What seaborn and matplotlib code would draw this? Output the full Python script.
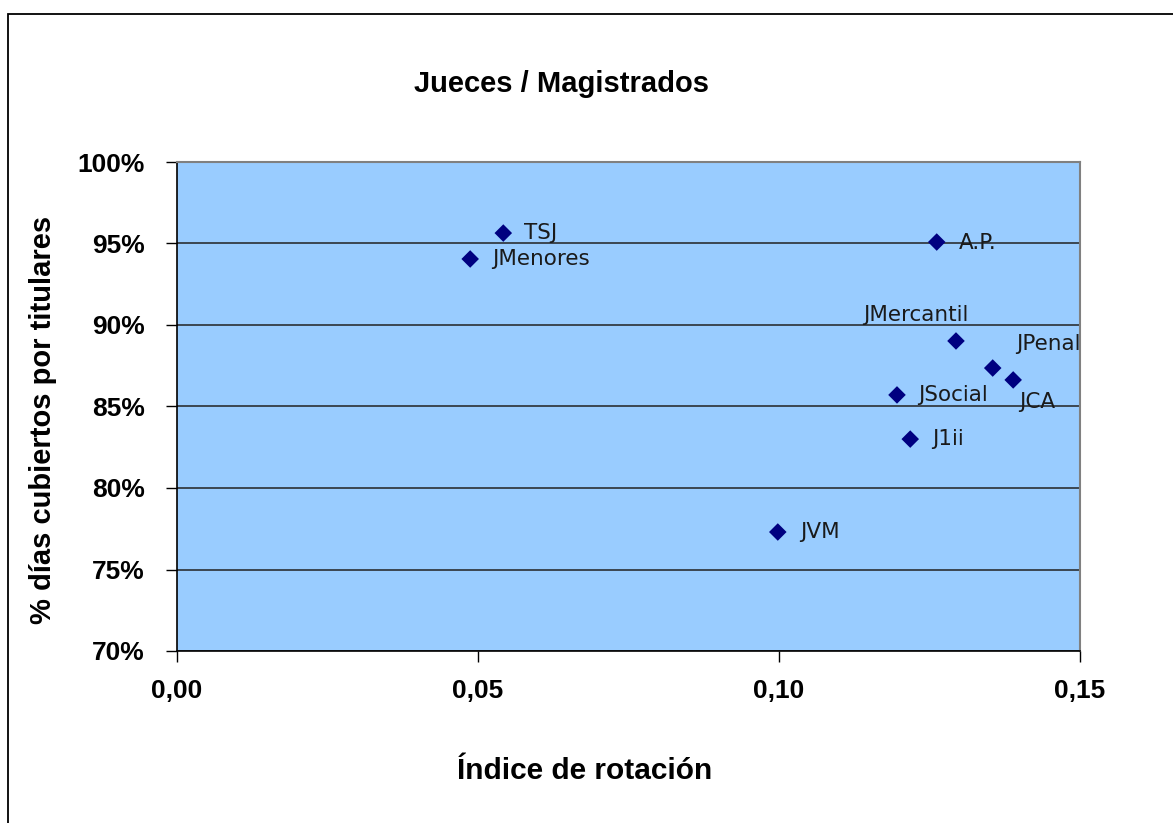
import numpy as np
import pandas as pd
import matplotlib.pyplot as plt
import seaborn as sns
from matplotlib.patches import Rectangle
from matplotlib.ticker import FuncFormatter, MultipleLocator

# data
organos = ["TSJ", "JMenores", "A.P.", "JMercantil", "JPenal", "JCA", "JSocial", "J1ii", "JVM"]
indice_rotacion = [0.0542, 0.0487, 0.1262, 0.1294, 0.1355, 0.1389, 0.1196, 0.1218, 0.0998]
dias_cubiertos = [0.9564, 0.9405, 0.9509, 0.8902, 0.8736, 0.8663, 0.8571, 0.8300, 0.7730]

df = pd.DataFrame({"organo": organos, "rotacion": indice_rotacion, "cubiertos": dias_cubiertos})

# label offsets in points (dx, dy, ha)
label_pos = {
    "TSJ": (15, 0, "left"),
    "JMenores": (16, 0, "left"),
    "A.P.": (16, -1, "left"),
    "JMercantil": (-29, 19, "center"),
    "JPenal": (17, 17, "left"),
    "JCA": (4, -16, "left"),
    "JSocial": (15, 0, "left"),
    "J1ii": (16, 0, "left"),
    "JVM": (16, 0, "left"),
}

sns.set_style("white", {"xtick.bottom": True, "ytick.left": True,
                        "text.color": "black", "axes.labelcolor": "black",
                        "xtick.color": "black", "ytick.color": "black"})
plt.rcParams["font.family"] = ["Liberation Sans", "DejaVu Sans"]

fig = plt.figure(figsize=(11.73, 8.23), dpi=100)
ax = fig.add_axes([177 / 1173, 1 - 651 / 823, 903 / 1173, 489 / 823])
ax.set_facecolor("#99CCFF")

sns.scatterplot(data=df, x="rotacion", y="cubiertos", marker="D", s=80,
                color="#000080", edgecolor="none", ax=ax, zorder=3)

for name, xv, yv in zip(organos, indice_rotacion, dias_cubiertos):
    dx, dy, ha = label_pos[name]
    ax.annotate(name, (xv, yv), xytext=(dx, dy), textcoords="offset points",
                ha=ha, va="center", fontsize=15.5, family="DejaVu Sans", color="#1a1a1a")

ax.set_xlim(0, 0.15)
ax.set_ylim(0.70, 1.00)
ax.xaxis.set_major_locator(MultipleLocator(0.05))
ax.yaxis.set_major_locator(MultipleLocator(0.05))
ax.xaxis.set_major_formatter(FuncFormatter(lambda v, p: f"{v:.2f}".replace(".", ",")))
ax.yaxis.set_major_formatter(FuncFormatter(lambda v, p: f"{v * 100:.0f}%"))
ax.grid(axis="y", color="#222222", linewidth=1.1)
ax.set_axisbelow(True)

for side in ["left", "bottom"]:
    ax.spines[side].set_color("black")
    ax.spines[side].set_linewidth(1.2)
for side in ["top", "right"]:
    ax.spines[side].set_visible(True)
    ax.spines[side].set_color("#808080")
    ax.spines[side].set_linewidth(1.5)

ax.tick_params(axis="both", which="major", direction="out", length=8, width=1, color="black",
               labelsize=19, labelcolor="black")
ax.tick_params(axis="x", pad=12)
ax.tick_params(axis="y", pad=15)
for lab in ax.get_xticklabels() + ax.get_yticklabels():
    lab.set_fontweight("bold")

ax.set_xlabel("Índice de rotación", fontsize=21.5, fontweight="bold", color="black")
ax.xaxis.set_label_coords((585 - 177) / 903, -(757 - 651) / 489)
ax.set_ylabel("% días cubiertos por titulares", fontsize=21, fontweight="bold", color="black")
ax.yaxis.set_label_coords(-(177 - 57) / 903, (651 - 420) / 489)

fig.text(561 / 1173, 1 - 84 / 823, "Jueces / Magistrados", ha="center", va="center",
         fontsize=21, fontweight="bold", color="black")

# outer chart frame
fig.patches.append(Rectangle((8 / 1173, -0.1), 1.2, 1 - 14 / 823 + 0.1,
                             transform=fig.transFigure, fill=False,
                             edgecolor="black", linewidth=1.3))

fig.savefig("out.png", dpi=100, facecolor="white")
